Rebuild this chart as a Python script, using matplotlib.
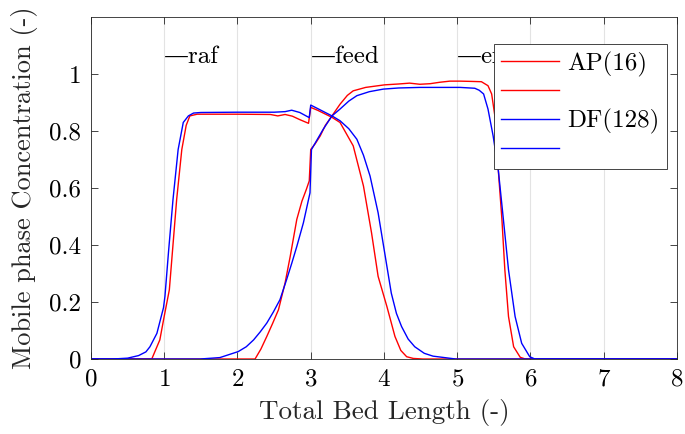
import matplotlib
matplotlib.use("Agg")
import matplotlib.pyplot as plt
from matplotlib.ticker import FuncFormatter

plt.rcParams['font.family'] = ['cmr10', 'DejaVu Serif']
plt.rcParams['mathtext.fontset'] = 'cm'
plt.rcParams['axes.formatter.use_mathtext'] = True

# AP(16), first component (raffinate side)
ap_a_x = [0, 0.83, 0.94, 1.0, 1.07, 1.17, 1.24, 1.30, 1.35, 1.45, 2.0, 2.45, 2.55, 2.65, 2.75,
          2.85, 2.97, 3.0, 3.1, 3.29, 3.40, 3.58, 3.72, 3.83, 3.92, 4.04, 4.15, 4.23, 4.31,
          4.40, 4.53, 8]
ap_a_y = [0, 0, 0.067, 0.15, 0.243, 0.56, 0.735, 0.82, 0.853, 0.859, 0.859, 0.858, 0.853, 0.858,
          0.852, 0.84, 0.827, 0.883, 0.872, 0.848, 0.83, 0.748, 0.607, 0.443, 0.29, 0.184,
          0.079, 0.03, 0.008, 0.002, 0, 0]

# AP(16), second component (extract side)
ap_b_x = [0, 2.24, 2.32, 2.40, 2.48, 2.56, 2.65, 2.72, 2.81, 2.88, 2.94, 2.98, 3.0, 3.06, 3.13,
          3.2, 3.29, 3.40, 3.50, 3.58, 3.75, 4.01, 4.2, 4.35, 4.49, 4.63, 4.76, 4.9, 5.04, 5.2,
          5.33, 5.42, 5.47, 5.52, 5.56, 5.61, 5.65, 5.70, 5.77, 5.86, 5.93, 8]
ap_b_y = [0, 0, 0.035, 0.079, 0.125, 0.173, 0.267, 0.36, 0.49, 0.554, 0.595, 0.625, 0.735, 0.755,
          0.783, 0.82, 0.853, 0.894, 0.925, 0.941, 0.953, 0.962, 0.965, 0.968, 0.964, 0.966,
          0.971, 0.975, 0.975, 0.974, 0.973, 0.959, 0.93, 0.842, 0.665, 0.49, 0.313, 0.149,
          0.043, 0.006, 0, 0]

# DF(128), first component
df_a_x = [0, 0.3, 0.5, 0.65, 0.75, 0.805, 0.9, 0.99, 1.01, 1.06, 1.12, 1.19, 1.26, 1.33, 1.4,
          1.5, 2.0, 2.5, 2.65, 2.74, 2.85, 2.98, 3.0, 3.1, 3.29, 3.40, 3.52, 3.63, 3.72, 3.81,
          3.92, 4.01, 4.10, 4.17, 4.24, 4.33, 4.42, 4.55, 4.67, 4.98, 8]
df_a_y = [0, 0, 0.003, 0.012, 0.025, 0.043, 0.09, 0.18, 0.22, 0.38, 0.56, 0.735, 0.83, 0.853,
          0.863, 0.865, 0.866, 0.866, 0.868, 0.873, 0.865, 0.847, 0.891, 0.878, 0.853, 0.836,
          0.808, 0.771, 0.715, 0.642, 0.513, 0.372, 0.231, 0.16, 0.114, 0.07, 0.043, 0.02,
          0.01, 0, 0]

# DF(128), second component
df_b_x = [0, 1.49, 1.76, 2.01, 2.12, 2.22, 2.31, 2.40, 2.49, 2.58, 2.67, 2.74, 2.81, 2.90, 2.99,
          3.01, 3.1, 3.17, 3.29, 3.40, 3.52, 3.63, 3.80, 3.99, 4.2, 4.49, 4.76, 5.04, 5.24,
          5.30, 5.36, 5.42, 5.49, 5.56, 5.63, 5.70, 5.79, 5.88, 5.99, 6.06, 8]
df_b_y = [0, 0, 0.005, 0.026, 0.043, 0.067, 0.095, 0.126, 0.165, 0.208, 0.278, 0.335, 0.395,
          0.478, 0.583, 0.735, 0.775, 0.806, 0.853, 0.877, 0.905, 0.924, 0.938, 0.947, 0.951,
          0.953, 0.953, 0.953, 0.95, 0.943, 0.93, 0.877, 0.783, 0.665, 0.49, 0.313, 0.149,
          0.055, 0.008, 0, 0]

port_x = [1, 3, 5]
port_names = ['raf', 'feed', 'extract']
legend_labels = ['AP(16)', '', 'DF(128)', '']

fig = plt.figure(figsize=(6.85, 4.34), dpi=100)
ax = fig.add_axes([0.1328, 0.1728, 0.8555, 0.788])

l1, = ax.plot(ap_a_x, ap_a_y, color='#ff0000', lw=1.0)
l2, = ax.plot(ap_b_x, ap_b_y, color='#ff0000', lw=1.0)
l3, = ax.plot(df_a_x, df_a_y, color='#0000ff', lw=1.0)
l4, = ax.plot(df_b_x, df_b_y, color='#0000ff', lw=1.0)

for px, name in zip(port_x, port_names):
    ax.text(px, 1.06, '\u2014' + name, fontsize=18, ha='left', va='center')

ax.set_xlim(0, 8)
ax.set_ylim(0, 1.2)
ax.set_xticks(range(0, 9))
ax.set_yticks([0, 0.2, 0.4, 0.6, 0.8, 1.0])
ax.yaxis.set_major_formatter(FuncFormatter(lambda v, p: '%g' % v))
ax.xaxis.grid(True, color='#e3e3e3', lw=0.8)
ax.set_axisbelow(True)
ax.tick_params(direction='in', top=True, right=True, labelsize=18, length=5,
               width=0.6, color='#262626', pad=7)
for s in ax.spines.values():
    s.set_color('#262626')
    s.set_linewidth(0.6)

ax.set_xlabel('Total Bed Length (-)', fontsize=19.5, color='#262626', labelpad=6)
ax.set_ylabel('Mobile phase Concentration (-)', fontsize=19, color='#262626', labelpad=8)

leg = ax.legend([l1, l2, l3, l4], legend_labels, loc='upper right',
                bbox_to_anchor=(0.983, 0.921), borderaxespad=0, fontsize=18,
                handlelength=2.3, handletextpad=0.35, labelspacing=0.2,
                borderpad=0.3, fancybox=False, framealpha=1, edgecolor='#262626')
leg.get_frame().set_linewidth(0.6)

fig.savefig('out.png', dpi=100)
